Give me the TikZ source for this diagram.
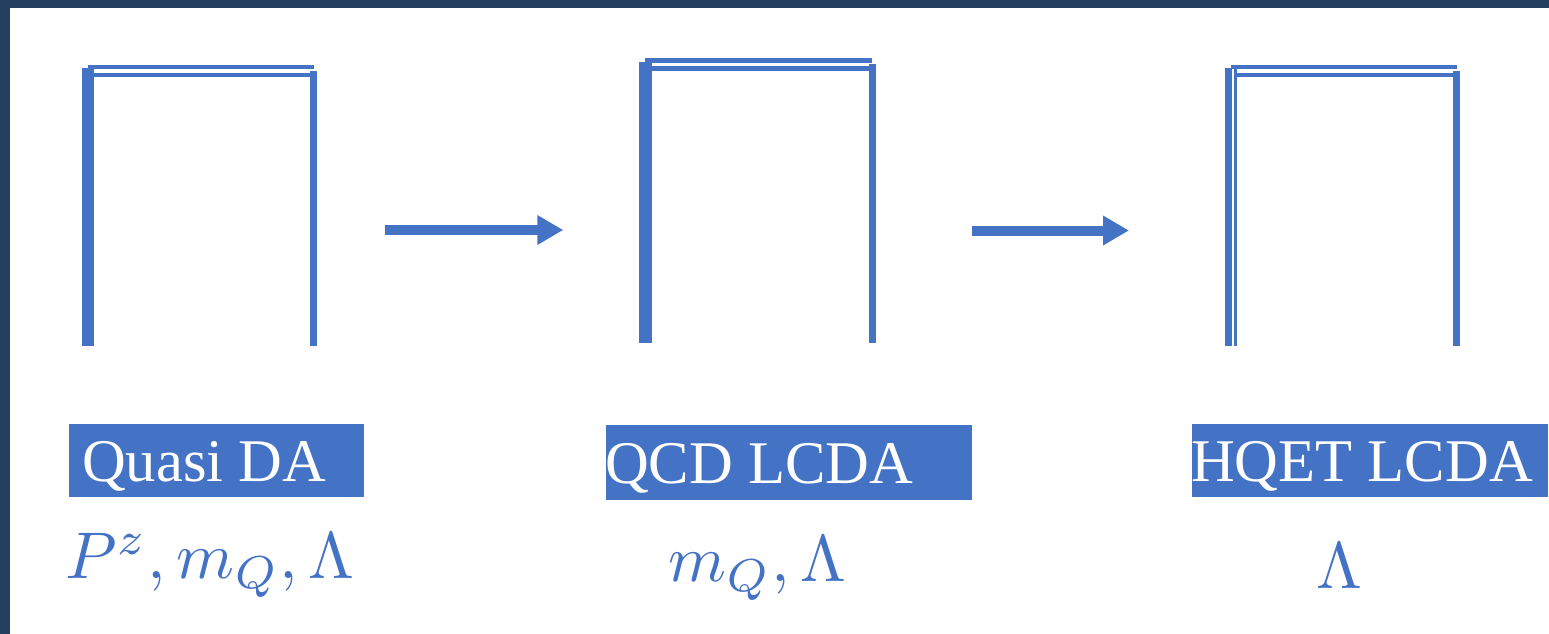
\documentclass[tikz,border=0pt]{standalone}
\usepackage{fontspec}
\setmainfont{Liberation Serif}
\usetikzlibrary{arrows.meta}
\definecolor{frameblue}{HTML}{4472C4}
\definecolor{navyedge}{HTML}{243F60}
\begin{document}
\begin{tikzpicture}[x=1pt,y=-1pt,
  bar/.style={fill=frameblue},
  flow/.style={draw=frameblue, line width=10pt, -{Triangle[length=26pt,width=28pt]}},
  tagbox/.style={fill=frameblue, draw=none, inner sep=0pt, anchor=north west},
  tagtext/.style={text=white, inner sep=0pt, anchor=base west, font=\fontsize{60.6}{60.6}\selectfont},
  param/.style={text=frameblue, inner sep=0pt, anchor=base west, scale=6.6}]
\useasboundingbox (0,0) rectangle (1549,634);
\fill[navyedge] (0,0) rectangle (1549,634);
\fill[white] (10,8) rectangle (1549,634);

% frame 1
\fill[bar] (82,68) rectangle (94,346);
\fill[bar] (88,65) rectangle (314,69.3);
\fill[bar] (93,73.3) rectangle (313,77.3);
\fill[bar] (310,71) rectangle (316.7,346);

% frame 2
\fill[bar] (639.3,61.7) rectangle (651.5,342.7);
\fill[bar] (645,58.3) rectangle (871.7,62.7);
\fill[bar] (651,66) rectangle (869,70.7);
\fill[bar] (869,64) rectangle (876,342.7);

% frame 3
\fill[bar] (1225,68.3) rectangle (1232.3,345.7);
\fill[bar] (1233.5,67.3) rectangle (1236.7,345.7);
\fill[bar] (1230.7,65) rectangle (1457,69.3);
\fill[bar] (1236.5,72.8) rectangle (1457,77);
\fill[bar] (1453.3,71) rectangle (1460,345.7);

% arrows
\coordinate (a1s) at (385,230);
\coordinate (a1e) at (563.3,230);
\coordinate (a2s) at (971.7,230.5);
\coordinate (a2e) at (1129,230.5);
\draw[flow] (a1s) -- (a1e);
\draw[flow] (a2s) -- (a2e);

% label boxes
\node[tagbox, minimum width=295.7pt, minimum height=73.4pt] (box1) at (68.3,423.3) {};
\node[tagbox, minimum width=365.7pt, minimum height=74.3pt] (box2) at (606,425) {};
\node[tagbox, minimum width=356.3pt, minimum height=73.4pt] (box3) at (1191.7,423.3) {};
\node[tagtext] (t1) at (82,481.7) {Quasi DA};
\node[tagtext] (t2) at (605,483) {QCD LCDA};
\node[tagtext] (t3) at (1191,481.7) {HQET LCDA};

% parameters
\node[param] (m1) at (64,578.3) {$P^z, m_Q, \Lambda$};
\node[param] (m2) at (667,581.7) {$m_Q, \Lambda$};
\node[param] (m3) at (1315,588.3) {$\Lambda$};
\end{tikzpicture}
\end{document}
